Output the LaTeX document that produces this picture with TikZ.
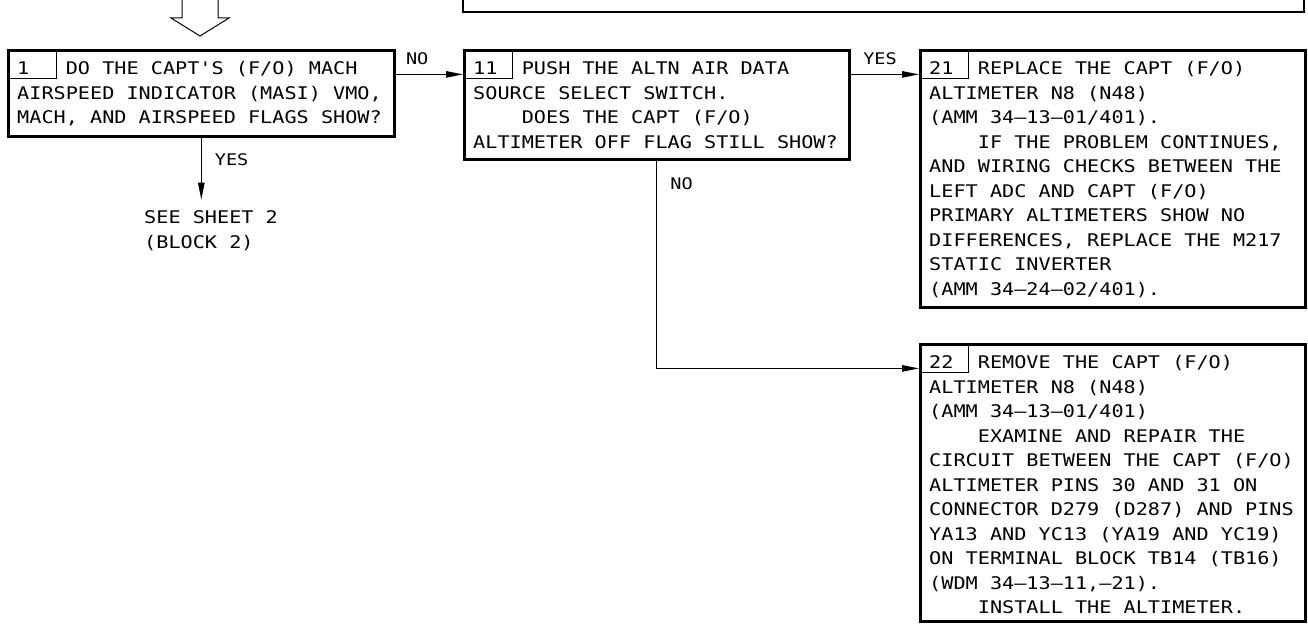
\documentclass[tikz,border=0pt]{standalone}
\usepackage{fontspec}
\newfontfamily\plotfont[Ligatures=TeXOff]{DejaVu Sans Mono}
\usetikzlibrary{arrows.meta,calc}
\newcommand{\ind}{\hphantom{0000}}

\begin{document}
\begin{tikzpicture}[
            x=1pt, y=-1pt,
            box/.style={draw, line width=2.6pt, anchor=north west, inner sep=0pt},
            num/.style={draw, line width=1pt, anchor=north west, inner sep=0pt, minimum width=49pt, minimum height=29pt},
            txt/.style={anchor=north west, inner sep=0pt, align=left, xscale=1.16, font=\plotfont\fontsize{17.4}{24.5}\selectfont\frenchspacing},
            lab/.style={inner sep=0pt, xscale=1.16, font=\plotfont\fontsize{16}{20}\selectfont},
            flow/.style={line width=1pt, -{Triangle[length=17pt,width=6.5pt]}}
        ]
\useasboundingbox (0,0) rectangle (1308,626);

% --- block from previous step (cut off) and entry arrow ---
            \draw[line width=2.6pt] (463,-20) |- (1304,12) -- (1304,-20);
            \draw[line width=1pt] (182,-2) -- (182,18) -- (171,18) -- (200,36) -- (229,18) -- (218,18) -- (218,-2);

% --- boxes ---
            \node[box, minimum width=386pt, minimum height=86pt]  (b1)  at (7,49) {};
            \node[box, minimum width=385pt, minimum height=109pt] (b11) at (463,49) {};
            \node[box, minimum width=385pt, minimum height=257pt] (b21) at (919,49) {};
            \node[box, minimum width=385pt, minimum height=277pt] (b22) at (919,343) {};

% --- block numbers ---
            \node[num] (n1)  at (b1.north west) {};
            \node[num] (n11) at (b11.north west) {};
            \node[num] (n21) at (b21.north west) {};
            \node[num] (n22) at (b22.north west) {};

% --- block texts (first line carries a strut, baseline 17.15 below the top) ---
            \node[txt] (t1) at ($(b1.north west)+(10,8.25)$) {\strut 1\hphantom{000}DO THE CAPT'S (F/O) MACH\\
                AIRSPEED INDICATOR (MASI) VMO,\\
                MACH, AND AIRSPEED FLAGS SHOW?};
            \node[txt] (t11) at ($(b11.north west)+(10,8.25)$) {\strut 11\hphantom{00}PUSH THE ALTN AIR DATA\\
                SOURCE SELECT SWITCH.\\
                \ind DOES THE CAPT (F/O)\\
                ALTIMETER OFF FLAG STILL SHOW?};
            \node[txt] (t21) at ($(b21.north west)+(10,8.25)$) {\strut 21\hphantom{00}REPLACE THE CAPT (F/O)\\
                ALTIMETER N8 (N48)\\
                (AMM 34–13–01/401).\\
                \ind IF THE PROBLEM CONTINUES,\\
                AND WIRING CHECKS BETWEEN THE\\
                LEFT ADC AND CAPT (F/O)\\
                PRIMARY ALTIMETERS SHOW NO\\
                DIFFERENCES, REPLACE THE M217\\
                STATIC INVERTER\\
                (AMM 34–24–02/401).};
            \node[txt] (t22) at ($(b22.north west)+(10,8.25)$) {\strut 22\hphantom{00}REMOVE THE CAPT (F/O)\\
                ALTIMETER N8 (N48)\\
                (AMM 34–13–01/401)\\
                \ind EXAMINE AND REPAIR THE\\
                CIRCUIT BETWEEN THE CAPT (F/O)\\
                ALTIMETER PINS 30 AND 31 ON\\
                CONNECTOR D279 (D287) AND PINS\\
                YA13 AND YC13 (YA19 AND YC19)\\
                ON TERMINAL BLOCK TB14 (TB16)\\
                (WDM 34–13–11,–21).\\
                \ind INSTALL THE ALTIMETER.};

% --- first-line baselines ---
            \coordinate (l1)  at ([yshift=-17.15pt]t1.north west);
            \coordinate (l22) at ([yshift=-17.15pt]t22.north west);

% --- sheet reference ---
            \coordinate (s2) at ($(b1.south)+(0,62)$);
            \node[txt] (sheet) at (144,206.25) {\strut SEE SHEET 2\\(BLOCK 2)};

% --- connectors ---
            \draw[flow] (l1 -| b1.east) -- node[anchor=base, pos=0.32, yshift=10pt, lab] {NO} (l1 -| b11.west);
            \draw[flow] (l1 -| b11.east) -- node[anchor=base, pos=0.43, yshift=10pt, lab] {YES} (l1 -| b21.west);
            \draw[flow] (b1.south) -- node[anchor=base west, pos=0.45, xshift=13pt, lab] {YES} (s2);
            \draw[flow] (b11.south) |- node[anchor=base west, pos=0.07, xshift=13pt, lab] {NO} (l22 -| b22.west);

        \end{tikzpicture}
\end{document}
